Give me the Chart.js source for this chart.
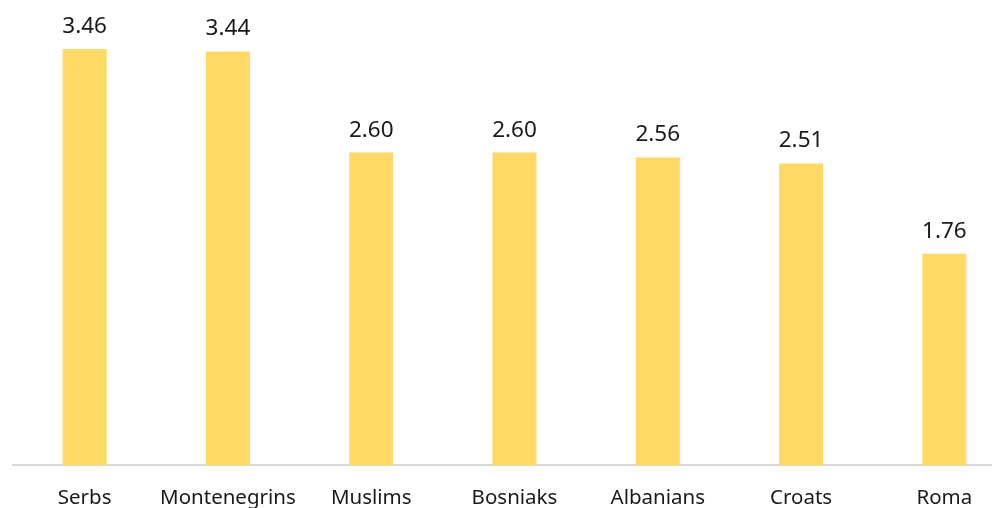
<!DOCTYPE html>
<html lang="en">
<head>
  <meta charset="UTF-8" />
  <title>Scores by group</title>
  <script src="https://cdn.jsdelivr.net/npm/chart.js"></script>
  <style>
    html, body {
      margin: 0;
      padding: 0;
      background: #fff;
      overflow: hidden;
    }
    .wrap {
      width: 1016px;
      height: 530px;
    }
  </style>
</head>
<body>
  <div class="wrap"><canvas id="chart"></canvas></div>

  <script>
    const groups = ['Serbs', 'Montenegrins', 'Muslims', 'Bosniaks', 'Albanians', 'Croats', 'Roma'];
    const scores = [3.46, 3.44, 2.60, 2.60, 2.56, 2.51, 1.76];

    // labels above each bar
    const valueLabels = {
      id: 'valueLabels',
      afterDatasetsDraw(chart) {
        const ctx = chart.ctx;
        const meta = chart.getDatasetMeta(0);
        ctx.save();
        ctx.font = '22.5px "Noto Sans", sans-serif';
        ctx.fillStyle = '#1a1a1a';
        ctx.textAlign = 'center';
        ctx.textBaseline = 'alphabetic';
        meta.data.forEach((bar, i) => {
          ctx.fillText(scores[i].toFixed(2), bar.x, bar.y - 16);
        });
        ctx.restore();
      }
    };

    new Chart(document.getElementById('chart').getContext('2d'), {
      type: 'bar',
      data: {
        labels: groups,
        datasets: [{
          data: scores,
          backgroundColor: '#ffd966',
          barPercentage: 0.307,
          categoryPercentage: 1
        }]
      },
      options: {
        responsive: true,
        maintainAspectRatio: false,
        animation: false,
        layout: { padding: { left: 13, right: 0, top: 0, bottom: 0 } },
        scales: {
          y: {
            display: false,
            min: 0,
            max: 3.868
          },
          x: {
            grid: { display: false, drawTicks: false },
            border: { display: true, color: '#d9d9d9', width: 2 },
            ticks: {
              color: '#1a1a1a',
              padding: 20,
              maxRotation: 0,
              font: { family: '"Noto Sans", sans-serif', size: 20.5 }
            }
          }
        },
        plugins: {
          legend: { display: false },
          tooltip: { enabled: false }
        }
      },
      plugins: [valueLabels]
    });
  </script>
</body>
</html>
